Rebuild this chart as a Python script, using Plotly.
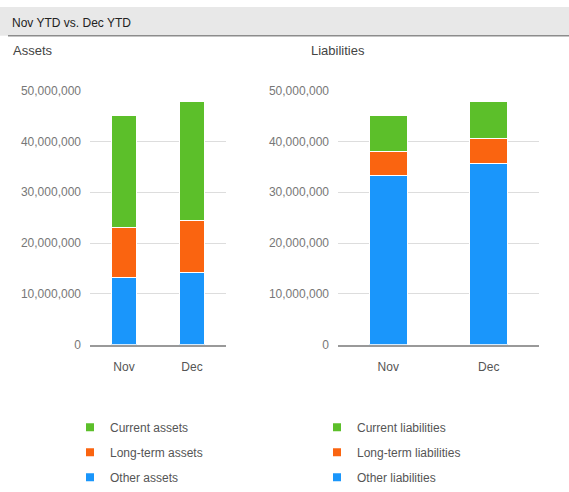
import plotly.graph_objects as go

months = ["Nov", "Dec"]

asset_names = ["Other assets", "Long-term assets", "Current assets"]
other_assets = [13.2e6, 14.2e6]
longterm_assets = [9.8e6, 10.3e6]
current_assets = [22.1e6, 23.3e6]

liab_names = ["Other liabilities", "Long-term liabilities", "Current liabilities"]
other_liab = [33.3e6, 35.7e6]
longterm_liab = [4.7e6, 4.8e6]
current_liab = [7.1e6, 7.3e6]

y_ticks = [0, 10e6, 20e6, 30e6, 40e6, 50e6]
y_tick_labels = ["0", "10,000,000", "20,000,000", "30,000,000", "40,000,000", "50,000,000"]

colors = ["#1a96fb", "#fa6410", "#5cbf2a"]

W, H = 569, 492
FONT = "Liberation Sans, Arial, sans-serif"

fig = go.Figure()

asset_vals = [other_assets, longterm_assets, current_assets]
liab_vals = [other_liab, longterm_liab, current_liab]

for name, vals, c in zip(asset_names, asset_vals, colors):
    fig.add_trace(go.Bar(x=months, y=vals, name=name, marker=dict(color=c, line=dict(color="white", width=1)),
                         xaxis="x", yaxis="y", showlegend=False))
for name, vals, c in zip(liab_names, liab_vals, colors):
    fig.add_trace(go.Bar(x=months, y=vals, name=name, marker=dict(color=c, line=dict(color="white", width=1)),
                         xaxis="x2", yaxis="y2", showlegend=False))

# legend entries (top to bottom: current, long-term, other)
for i, (name, c) in enumerate(reversed(list(zip(asset_names, colors)))):
    fig.add_trace(go.Scatter(x=[None], y=[None], mode="markers", name=name,
                             marker=dict(symbol="square", size=8, color=c),
                             legend="legend", legendgroup="a%d" % i, xaxis="x", yaxis="y"))
for i, (name, c) in enumerate(reversed(list(zip(liab_names, colors)))):
    fig.add_trace(go.Scatter(x=[None], y=[None], mode="markers", name=name,
                             marker=dict(symbol="square", size=8, color=c),
                             legend="legend2", legendgroup="l%d" % i, xaxis="x2", yaxis="y2"))

def px_x(p):
    return p / W

def px_y(p):
    return 1 - p / H

yaxis_common = dict(range=[0, 50e6], tickvals=y_ticks, ticktext=y_tick_labels,
                    showgrid=True, gridcolor="#dddddd", gridwidth=1, zeroline=False,
                    showline=False, tickfont=dict(family=FONT, size=12, color="#777777"),
                    ticklabelstandoff=8, fixedrange=True)
xaxis_common = dict(showline=True, linecolor="#999999", linewidth=1.5, showgrid=False,
                    tickfont=dict(family=FONT, size=12, color="#555555"),
                    ticklabelstandoff=10, fixedrange=True)

legend_common = dict(font=dict(family=FONT, size=12, color="#555555"), traceorder="grouped",
                     tracegroupgap=6, bgcolor="rgba(0,0,0,0)", xanchor="left", yanchor="top",
                     itemclick=False, itemdoubleclick=False)

fig.update_layout(
    width=W, height=H,
    margin=dict(l=0, r=0, t=0, b=0),
    paper_bgcolor="white", plot_bgcolor="white",
    barmode="stack", bargap=0.62,
    font=dict(family=FONT, size=12, color="#444444"),
    xaxis=dict(domain=[px_x(90), px_x(226)], anchor="y", **xaxis_common),
    yaxis=dict(domain=[px_y(352), px_y(87)], anchor="x", **yaxis_common),
    xaxis2=dict(domain=[px_x(338), px_x(539)], anchor="y2", **xaxis_common),
    yaxis2=dict(domain=[px_y(352), px_y(87)], anchor="x2", **yaxis_common),
    legend=dict(x=px_x(70), y=px_y(423), **legend_common),
    legend2=dict(x=px_x(317), y=px_y(423), **legend_common),
    shapes=[
        dict(type="rect", xref="paper", yref="paper", x0=0, x1=1, y0=px_y(30), y1=1,
             fillcolor="#e8e8e8", line=dict(width=0), layer="below"),
        dict(type="line", xref="paper", yref="paper", x0=px_x(8), x1=1, y0=px_y(30), y1=px_y(30),
             line=dict(color="#8c8c8c", width=1.5)),
    ],
    annotations=[
        dict(text="Nov YTD vs. Dec YTD", xref="paper", yref="paper", x=px_x(10), y=px_y(17),
             xanchor="left", yanchor="middle", showarrow=False,
             font=dict(family=FONT, size=12, color="#222222")),
        dict(text="Assets", xref="paper", yref="paper", x=px_x(11), y=px_y(45),
             xanchor="left", yanchor="middle", showarrow=False,
             font=dict(family=FONT, size=13, color="#444444")),
        dict(text="Liabilities", xref="paper", yref="paper", x=px_x(309), y=px_y(45),
             xanchor="left", yanchor="middle", showarrow=False,
             font=dict(family=FONT, size=13, color="#444444")),
    ],
)

fig.write_html("out.html", config={"displayModeBar": False},
               post_script="document.body.style.margin='0';document.body.style.overflow='hidden';")
